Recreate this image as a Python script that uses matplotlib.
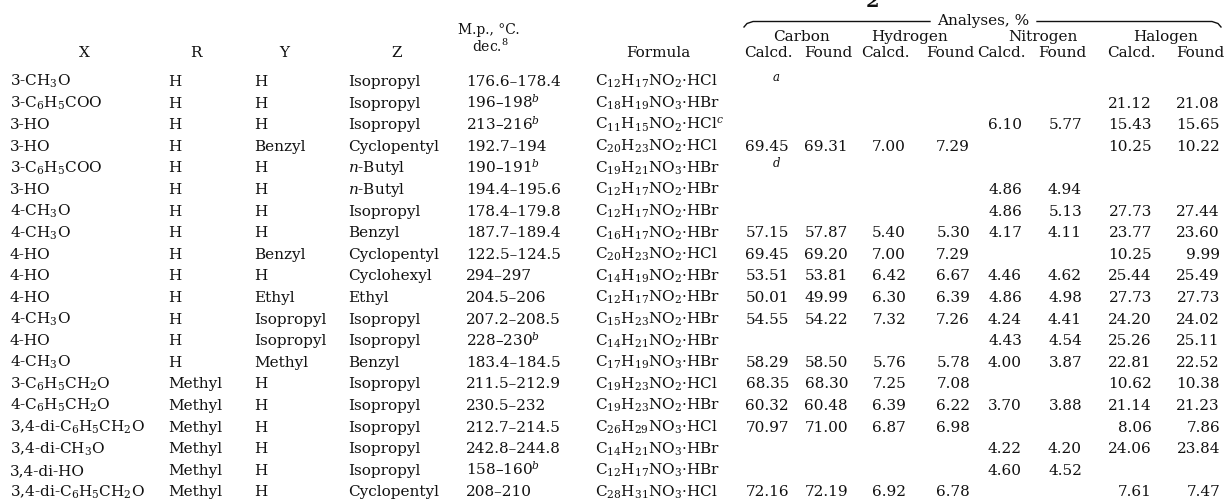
import matplotlib
matplotlib.use("Agg")
import matplotlib.pyplot as plt

plt.rcParams['font.family'] = 'DejaVu Serif'
plt.rcParams['mathtext.fontset'] = 'dejavuserif'

# table content, one list per column (None = blank cell)
x_sub = ["3-CH$_3$O", "3-C$_6$H$_5$COO", "3-HO", "3-HO", "3-C$_6$H$_5$COO",
         "3-HO", "4-CH$_3$O", "4-CH$_3$O", "4-HO", "4-HO", "4-HO", "4-CH$_3$O",
         "4-HO", "4-CH$_3$O", "3-C$_6$H$_5$CH$_2$O", "4-C$_6$H$_5$CH$_2$O",
         "3,4-di-C$_6$H$_5$CH$_2$O", "3,4-di-CH$_3$O", "3,4-di-HO",
         "3,4-di-C$_6$H$_5$CH$_2$O"]
r_sub = ["H"] * 14 + ["Methyl"] * 6
y_sub = ["H", "H", "H", "Benzyl", "H", "H", "H", "H", "Benzyl", "H", "Ethyl",
         "Isopropyl", "Isopropyl", "Methyl", "H", "H", "H", "H", "H", "H"]
z_sub = ["Isopropyl", "Isopropyl", "Isopropyl", "Cyclopentyl", "$n$-Butyl",
         "$n$-Butyl", "Isopropyl", "Benzyl", "Cyclopentyl", "Cyclohexyl", "Ethyl",
         "Isopropyl", "Isopropyl", "Benzyl", "Isopropyl", "Isopropyl", "Isopropyl",
         "Isopropyl", "Isopropyl", "Cyclopentyl"]
melting = ["176.6–178.4", "196–198$^b$", "213–216$^b$", "192.7–194", "190–191$^b$",
           "194.4–195.6", "178.4–179.8", "187.7–189.4", "122.5–124.5", "294–297",
           "204.5–206", "207.2–208.5", "228–230$^b$", "183.4–184.5", "211.5–212.9",
           "230.5–232", "212.7–214.5", "242.8–244.8", "158–160$^b$", "208–210"]
formula = ["C$_{12}$H$_{17}$NO$_2$·HCl", "C$_{18}$H$_{19}$NO$_3$·HBr",
           "C$_{11}$H$_{15}$NO$_2$·HCl$^c$", "C$_{20}$H$_{23}$NO$_2$·HCl",
           "C$_{19}$H$_{21}$NO$_3$·HBr", "C$_{12}$H$_{17}$NO$_2$·HBr",
           "C$_{12}$H$_{17}$NO$_2$·HBr", "C$_{16}$H$_{17}$NO$_2$·HBr",
           "C$_{20}$H$_{23}$NO$_2$·HCl", "C$_{14}$H$_{19}$NO$_2$·HBr",
           "C$_{12}$H$_{17}$NO$_2$·HBr", "C$_{15}$H$_{23}$NO$_2$·HBr",
           "C$_{14}$H$_{21}$NO$_2$·HBr", "C$_{17}$H$_{19}$NO$_3$·HBr",
           "C$_{19}$H$_{23}$NO$_2$·HCl", "C$_{19}$H$_{23}$NO$_2$·HBr",
           "C$_{26}$H$_{29}$NO$_3$·HCl", "C$_{14}$H$_{21}$NO$_3$·HBr",
           "C$_{12}$H$_{17}$NO$_3$·HBr", "C$_{28}$H$_{31}$NO$_3$·HCl"]
footnote = {0: "a", 4: "d"}

c_calc = [None, None, None, 69.45, None, None, None, 57.15, 69.45, 53.51, 50.01,
          54.55, None, 58.29, 68.35, 60.32, 70.97, None, None, 72.16]
c_found = [None, None, None, 69.31, None, None, None, 57.87, 69.20, 53.81, 49.99,
           54.22, None, 58.50, 68.30, 60.48, 71.00, None, None, 72.19]
h_calc = [None, None, None, 7.00, None, None, None, 5.40, 7.00, 6.42, 6.30,
          7.32, None, 5.76, 7.25, 6.39, 6.87, None, None, 6.92]
h_found = [None, None, None, 7.29, None, None, None, 5.30, 7.29, 6.67, 6.39,
           7.26, None, 5.78, 7.08, 6.22, 6.98, None, None, 6.78]
n_calc = [None, None, 6.10, None, None, 4.86, 4.86, 4.17, None, 4.46, 4.86,
          4.24, 4.43, 4.00, None, 3.70, None, 4.22, 4.60, None]
n_found = [None, None, 5.77, None, None, 4.94, 5.13, 4.11, None, 4.62, 4.98,
           4.41, 4.54, 3.87, None, 3.88, None, 4.20, 4.52, None]
hal_calc = [None, 21.12, 15.43, 10.25, None, None, 27.73, 23.77, 10.25, 25.44,
            27.73, 24.20, 25.26, 22.81, 10.62, 21.14, 8.06, 24.06, None, 7.61]
hal_found = [None, 21.08, 15.65, 10.22, None, None, 27.44, 23.60, 9.99, 25.49,
             27.73, 24.02, 25.11, 22.52, 10.38, 21.23, 7.86, 23.84, None, 7.47]

groups = ["Carbon", "Hydrogen", "Nitrogen", "Halogen"]

W, H = 1226, 499
fig = plt.figure(figsize=(W / 100, H / 100), dpi=100)
ax = fig.add_axes([0, 0, 1, 1])
ax.set_xlim(0, W)
ax.set_ylim(H, 0)
ax.axis('off')

FS = 11
ink = '#111111'
row0, dy = 86, 21.6
left_x = [10, 168, 254, 348, 466, 595]
num_right = [789, 848, 906, 970, 1022, 1082, 1152, 1220]

# header
for lab, cx in zip(["X", "R", "Y", "Z"], [84, 196, 284, 397]):
    ax.text(cx, 57, lab, ha='center', va='baseline', fontsize=FS, color=ink)
ax.text(489, 34, "M.p., °C.", ha='center', va='baseline', fontsize=10, color=ink)
ax.text(490, 52, "dec.$^8$", ha='center', va='baseline', fontsize=10, color=ink)
ax.text(658, 57, "Formula", ha='center', va='baseline', fontsize=FS, color=ink)
for lab, cx in zip(groups, [802, 910, 1043, 1166]):
    ax.text(cx, 41, lab, ha='center', va='baseline', fontsize=FS, color=ink)
for i, xr in enumerate(num_right):
    lab = "Calcd." if i % 2 == 0 else "Found"
    ax.text(min(xr + 4, 1224), 57, lab, ha='right', va='baseline', fontsize=FS, color=ink)

# brace over the analyses columns
ax.text(983, 25, "Analyses, %", ha='center', va='baseline', fontsize=FS, color=ink)
ax.plot([744, 747, 753, 930], [27, 23.5, 21.5, 21.5], color=ink, lw=1.0)
ax.plot([1037, 1212, 1218, 1221], [21.5, 21.5, 23.5, 27], color=ink, lw=1.0)

# heading cut by the top edge, as in the scan
ax.text(872, 7, "2", ha='center', va='baseline', fontsize=14, fontweight='bold', color=ink)

# body
text_cols = [x_sub, r_sub, y_sub, z_sub, melting, formula]
num_cols = [c_calc, c_found, h_calc, h_found, n_calc, n_found, hal_calc, hal_found]
for i in range(len(x_sub)):
    yb = row0 + i * dy
    for col, xl in zip(text_cols, left_x):
        ax.text(xl, yb, col[i], ha='left', va='baseline', fontsize=FS, color=ink)
    for col, xr in zip(num_cols, num_right):
        if col[i] is not None:
            ax.text(xr, yb, f"{col[i]:.2f}", ha='right', va='baseline',
                    fontsize=FS, color=ink)
    if i in footnote:
        ax.text(773, yb - 5, footnote[i], ha='left', va='baseline', fontsize=8.5,
                style='italic', color=ink)

fig.savefig("out.png", dpi=100, facecolor='white')
